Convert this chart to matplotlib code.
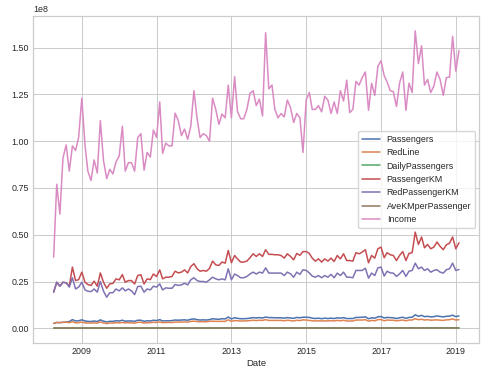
import numpy as np
import pandas as pd
import matplotlib
matplotlib.use("Agg")
import matplotlib.pyplot as plt
import matplotlib.ticker as mticker
import seaborn as sns

# Monthly data, 2008-04 .. 2019-02 (values in millions)
start_month = "2008-04-01"
n_months = 131

passengers_m = [2.6, 3.1, 3.0, 3.2, 3.3, 3.6, 4.6, 3.9, 4.0, 4.5,
                3.9, 3.7, 3.6, 3.9, 3.6, 4.5, 3.8, 3.4, 3.7, 3.7,
                4.0, 3.9, 4.3, 3.8, 3.9, 3.9, 3.7, 4.3, 4.3, 3.7,
                4.0, 3.9, 4.3, 4.1, 4.6, 3.9, 4.0, 4.0, 4.1, 4.4,
                4.3, 4.4, 4.5, 4.3, 4.8, 5.0, 4.6, 4.4, 4.5, 4.4,
                4.6, 5.1, 4.9, 4.8, 5.1, 5.0, 6.0, 5.0, 5.6, 5.3,
                5.1, 5.1, 5.2, 5.4, 5.7, 5.5, 5.7, 5.5, 6.0, 5.7,
                5.7, 5.6, 5.6, 5.6, 5.4, 5.7, 5.5, 5.3, 5.8, 5.6,
                5.9, 5.9, 5.8, 5.4, 5.2, 5.4, 5.1, 5.4, 5.2, 5.4,
                5.2, 5.6, 5.4, 5.7, 5.2, 5.2, 5.2, 5.8, 5.8, 5.9,
                6.1, 5.1, 5.6, 5.4, 6.1, 6.3, 5.5, 5.8, 5.7, 5.6,
                5.2, 5.6, 5.9, 5.3, 5.8, 5.9, 7.2, 6.4, 6.9, 6.2,
                6.4, 6.1, 6.2, 6.6, 6.3, 6.1, 6.4, 6.5, 7.0, 6.2,
                6.6]

redline_m = [2.6, 3.1, 3.0, 3.2, 3.3, 3.0, 3.5, 2.9, 3.0, 3.3,
             2.9, 2.8, 2.8, 2.9, 2.7, 3.4, 2.8, 2.5, 2.8, 2.8,
             3.0, 2.9, 3.1, 2.9, 3.0, 2.9, 2.7, 3.2, 3.2, 2.8,
             3.0, 3.0, 3.2, 3.1, 3.4, 3.0, 3.1, 3.1, 3.1, 3.3,
             3.3, 3.3, 3.4, 3.3, 3.7, 3.8, 3.6, 3.5, 3.5, 3.5,
             3.7, 3.8, 3.7, 3.7, 3.7, 3.7, 4.5, 3.7, 4.1, 4.0,
             3.9, 3.9, 4.0, 4.1, 4.3, 4.1, 4.3, 4.2, 4.6, 4.2,
             4.2, 4.2, 4.2, 4.2, 4.0, 4.3, 4.1, 3.9, 4.3, 4.1,
             4.5, 4.4, 4.2, 4.0, 3.9, 4.0, 3.9, 4.0, 3.9, 4.1,
             3.9, 4.2, 4.0, 4.3, 3.9, 3.9, 3.9, 4.4, 4.4, 4.4,
             4.6, 3.8, 4.2, 4.0, 4.6, 4.7, 4.0, 4.4, 4.3, 4.3,
             4.0, 4.2, 4.4, 4.0, 4.4, 4.4, 5.1, 4.6, 4.8, 4.4,
             4.6, 4.3, 4.4, 4.5, 4.3, 4.2, 4.5, 4.6, 5.0, 4.4,
             4.6]

daily_passengers_m = [0.087, 0.100, 0.100, 0.103, 0.110, 0.120, 0.148, 0.130, 0.129, 0.145,
                      0.130, 0.123, 0.116, 0.130, 0.120, 0.150, 0.123, 0.113, 0.123, 0.119,
                      0.133, 0.126, 0.143, 0.123, 0.126, 0.139, 0.119, 0.143, 0.139, 0.123,
                      0.129, 0.130, 0.143, 0.132, 0.164, 0.129, 0.133, 0.129, 0.137, 0.142,
                      0.143, 0.142, 0.150, 0.139, 0.160, 0.161, 0.153, 0.142, 0.150, 0.142,
                      0.153, 0.165, 0.175, 0.155, 0.170, 0.161, 0.200, 0.161, 0.200, 0.171,
                      0.170, 0.165, 0.173, 0.174, 0.190, 0.177, 0.190, 0.177, 0.214, 0.184,
                      0.190, 0.181, 0.187, 0.181, 0.174, 0.190, 0.177, 0.177, 0.187, 0.181,
                      0.190, 0.190, 0.207, 0.174, 0.173, 0.174, 0.170, 0.174, 0.173, 0.174,
                      0.173, 0.181, 0.180, 0.184, 0.173, 0.168, 0.173, 0.187, 0.187, 0.197,
                      0.197, 0.165, 0.200, 0.174, 0.197, 0.203, 0.177, 0.193, 0.184, 0.181,
                      0.173, 0.181, 0.197, 0.171, 0.187, 0.197, 0.232, 0.206, 0.230, 0.200,
                      0.206, 0.197, 0.200, 0.213, 0.203, 0.197, 0.213, 0.210, 0.226, 0.200,
                      0.236]

passenger_km_m = [19.3, 24.6, 22.5, 24.6, 24.3, 22.5, 32.7, 25.5, 26.0, 30.0,
                  24.6, 23.4, 22.9, 25.2, 22.5, 29.6, 24.6, 21.4, 23.7, 24.0,
                  26.4, 25.9, 28.7, 24.6, 25.5, 25.5, 23.7, 28.2, 28.6, 23.7,
                  26.4, 26.0, 29.0, 27.7, 31.2, 26.4, 27.3, 27.3, 27.7, 30.5,
                  29.6, 30.0, 31.2, 29.6, 33.0, 34.5, 31.8, 30.5, 30.9, 30.5,
                  32.0, 35.9, 33.9, 33.6, 35.4, 34.8, 41.6, 35.0, 38.9, 37.1,
                  35.4, 35.4, 35.9, 37.7, 39.8, 38.4, 39.8, 38.4, 42.0, 39.5,
                  39.5, 39.3, 39.3, 38.9, 37.5, 39.8, 38.4, 36.6, 40.0, 39.0,
                  41.0, 41.0, 40.0, 37.5, 35.9, 37.1, 35.4, 37.1, 35.9, 37.5,
                  35.7, 38.9, 37.1, 39.8, 36.2, 36.2, 35.9, 40.4, 39.8, 40.7,
                  42.0, 35.0, 38.9, 37.5, 42.5, 43.4, 37.7, 40.4, 39.3, 38.9,
                  36.2, 38.9, 41.0, 36.2, 40.0, 40.4, 51.4, 44.8, 48.8, 43.0,
                  44.8, 42.5, 43.4, 46.1, 43.8, 42.0, 44.6, 45.5, 48.8, 42.5,
                  45.7]

red_passenger_km_m = [19.3, 24.6, 22.5, 24.6, 24.3, 22.0, 27.0, 21.0, 22.0, 24.6,
                      20.5, 19.8, 19.6, 21.0, 19.3, 25.0, 19.8, 16.6, 19.0, 19.0,
                      21.0, 20.0, 21.6, 20.0, 21.0, 20.0, 18.0, 22.3, 22.5, 19.3,
                      21.0, 20.5, 22.5, 22.0, 23.7, 20.5, 21.6, 21.4, 21.4, 23.4,
                      22.9, 23.2, 24.1, 23.2, 25.9, 27.0, 25.5, 25.0, 25.0, 24.6,
                      25.9, 27.3, 26.4, 25.9, 26.4, 25.9, 31.8, 25.9, 29.0, 28.2,
                      27.0, 27.0, 27.7, 29.0, 30.0, 29.0, 30.0, 29.5, 32.3, 29.5,
                      29.5, 29.5, 29.5, 29.5, 28.2, 30.0, 29.1, 27.3, 30.0, 28.8,
                      31.3, 30.9, 29.6, 27.9, 27.3, 28.2, 27.0, 28.2, 27.3, 28.8,
                      27.0, 29.5, 28.2, 30.0, 27.3, 27.3, 27.0, 30.9, 30.9, 30.9,
                      32.1, 26.8, 29.5, 28.2, 32.3, 32.7, 27.9, 30.5, 29.6, 29.5,
                      27.7, 29.1, 30.9, 27.7, 30.5, 30.9, 34.8, 31.8, 32.7, 30.9,
                      31.8, 30.0, 30.9, 31.3, 30.0, 29.5, 31.3, 31.8, 34.8, 30.9,
                      31.4]

ave_km_per_passenger = [7.4, 7.9, 7.5, 7.7, 7.4, 6.3, 7.1, 6.5, 6.5, 6.7,
                        6.3, 6.3, 6.4, 6.5, 6.3, 6.6, 6.5, 6.3, 6.4, 6.5,
                        6.6, 6.6, 6.7, 6.5, 6.5, 6.5, 6.4, 6.6, 6.7, 6.4,
                        6.6, 6.7, 6.7, 6.8, 6.8, 6.8, 6.8, 6.8, 6.8, 6.9,
                        6.9, 6.8, 6.9, 6.9, 6.9, 6.9, 6.9, 6.9, 6.9, 6.9,
                        7.0, 7.0, 6.9, 7.0, 6.9, 7.0, 6.9, 7.0, 6.9, 7.0,
                        6.9, 6.9, 6.9, 7.0, 7.0, 7.0, 7.0, 7.0, 7.0, 6.9,
                        6.9, 7.0, 7.0, 6.9, 6.9, 7.0, 7.0, 6.9, 6.9, 7.0,
                        6.9, 6.9, 6.9, 6.9, 6.9, 6.9, 6.9, 6.9, 6.9, 6.9,
                        6.9, 6.9, 6.9, 7.0, 7.0, 7.0, 6.9, 7.0, 6.9, 6.9,
                        6.9, 6.9, 6.9, 6.9, 7.0, 6.9, 6.9, 7.0, 6.9, 6.9,
                        7.0, 6.9, 6.9, 6.8, 6.9, 6.8, 7.1, 7.0, 7.1, 6.9,
                        7.0, 7.0, 7.0, 7.0, 6.9, 6.9, 7.0, 7.0, 7.0, 6.9,
                        6.9]

income_m = [38, 77, 61, 91, 98, 84, 97.5, 95, 102, 123,
            98, 84, 79, 90, 83, 111, 89.5, 80, 85, 82.5,
            89, 92, 108, 84, 88.5, 88.5, 84, 102, 104, 84.5,
            94, 91.5, 106, 102, 121, 93.5, 99, 97.5, 97.5, 115,
            111, 103, 106.5, 101, 108, 127, 112, 102, 104, 103,
            100, 123, 117, 109, 114.5, 112.5, 130, 112.5, 134.5, 116,
            112, 112, 117, 125.5, 127, 119, 122.5, 113.5, 158, 128,
            130, 117, 112.5, 114.8, 113, 122, 118, 110, 114.8, 112.5,
            94, 122, 126, 117, 117, 119, 115.7, 124, 122, 114.8,
            121, 114.8, 127, 121.5, 132.6, 115.3, 117, 132, 130, 134,
            137, 116.5, 131, 124.5, 140, 143, 135, 131.7, 127, 126.5,
            118.5, 131, 137, 116.5, 131, 126, 159, 141.5, 151, 130,
            133, 126, 129.5, 137, 133, 124.5, 134, 134.3, 156, 137.5,
            148.5]

series_names = ["Passengers", "RedLine", "DailyPassengers", "PassengerKM",
                "RedPassengerKM", "AveKMperPassenger", "Income"]
tick_years = [2009, 2011, 2013, 2015, 2017, 2019]

dates = pd.date_range(start_month, periods=n_months, freq="MS")
df = pd.DataFrame({
    "Passengers": np.array(passengers_m) * 1e6,
    "RedLine": np.array(redline_m) * 1e6,
    "DailyPassengers": np.array(daily_passengers_m) * 1e6,
    "PassengerKM": np.array(passenger_km_m) * 1e6,
    "RedPassengerKM": np.array(red_passenger_km_m) * 1e6,
    "AveKMperPassenger": np.array(ave_km_per_passenger),
    "Income": np.array(income_m) * 1e6,
}, index=dates)
df.index.name = "Date"

sns.set_style("whitegrid")
plt.rcParams["font.family"] = ["Liberation Sans", "DejaVu Sans"]
plt.rcParams["font.size"] = 6.4

colors = sns.color_palette("deep")

fig = plt.figure(figsize=(4.91, 3.80), dpi=100)
ax = fig.add_axes([0.068, 0.097, 0.908, 0.861])
for i, name in enumerate(series_names):
    ax.plot(df.index, df[name], color=colors[i], lw=1.1, label=name)

ax.set_xticks([pd.Timestamp(f"{y}-01-01") for y in tick_years])
ax.set_xticklabels([str(y) for y in tick_years])
ax.yaxis.set_major_locator(mticker.MultipleLocator(0.25e8))
fmt = mticker.ScalarFormatter(useOffset=False)
fmt.set_powerlimits((0, 0))
ax.yaxis.set_major_formatter(fmt)
ax.set_xlabel("Date", fontsize=6.8, labelpad=2)
ax.tick_params(axis="both", labelsize=6.4, pad=3, length=0)
ax.grid(True, color="0.8", lw=0.75)
for s in ax.spines.values():
    s.set_color("0.8")
    s.set_linewidth(0.9)
ax.yaxis.get_offset_text().set_fontsize(6.4)

ax.legend(loc="center right", fontsize=6.4, frameon=True)

fig.savefig("out.png", dpi=100)
